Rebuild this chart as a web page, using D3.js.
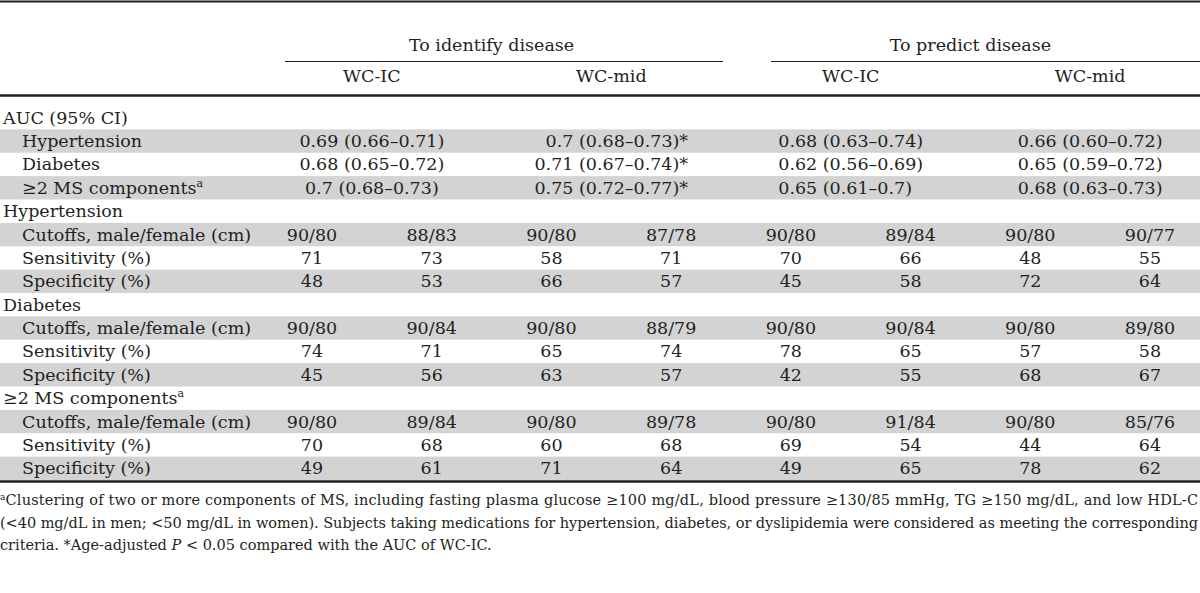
<!DOCTYPE html>
<html>
<head>
<meta charset="utf-8">
<script src="https://cdn.jsdelivr.net/npm/d3@7"></script>
<style>
  html, body { margin: 0; padding: 0; background: #fff; }
  svg text { font-family: "DejaVu Serif", serif; fill: #231f20; }
</style>
</head>
<body>
<svg id="chart" width="1200" height="593"></svg>
<script>
// table content
var groups = ["To identify disease", "To predict disease"];
var methods = ["WC-IC", "WC-mid", "WC-IC", "WC-mid"];

var aucLabels = ["Hypertension", "Diabetes", "\u22652 MS components"];
var aucHyp = ["0.69 (0.66\u20130.71)", "0.7 (0.68\u20130.73)*", "0.68 (0.63\u20130.74)", "0.66 (0.60\u20130.72)"];
var aucDia = ["0.68 (0.65\u20130.72)", "0.71 (0.67\u20130.74)*", "0.62 (0.56\u20130.69)", "0.65 (0.59\u20130.72)"];
var aucMs = ["0.7 (0.68\u20130.73)", "0.75 (0.72\u20130.77)*", "0.65 (0.61\u20130.7)", "0.68 (0.63\u20130.73)"];

var sections = ["Hypertension", "Diabetes", "\u22652 MS components"];
var measures = ["Cutoffs, male/female (cm)", "Sensitivity (%)", "Specificity (%)"];

var hypCutoffs = ["90/80", "88/83", "90/80", "87/78", "90/80", "89/84", "90/80", "90/77"];
var hypSens = [71, 73, 58, 71, 70, 66, 48, 55];
var hypSpec = [48, 53, 66, 57, 45, 58, 72, 64];
var diaCutoffs = ["90/80", "90/84", "90/80", "88/79", "90/80", "90/84", "90/80", "89/80"];
var diaSens = [74, 71, 65, 74, 78, 65, 57, 58];
var diaSpec = [45, 56, 63, 57, 42, 55, 68, 67];
var msCutoffs = ["90/80", "89/84", "90/80", "89/78", "90/80", "91/84", "90/80", "85/76"];
var msSens = [70, 68, 60, 68, 69, 54, 44, 64];
var msSpec = [49, 61, 71, 64, 49, 65, 78, 62];

var footnotes = [
  ["Clustering of two or more components of MS, including fasting plasma glucose \u2265100 mg/dL, blood pressure \u2265130/85 mmHg, TG \u2265150 mg/dL, and low HDL-C"],
  ["(<40 mg/dL in men; <50 mg/dL in women). Subjects taking medications for hypertension, diabetes, or dyslipidemia were considered as meeting the corresponding"],
  ["criteria. *Age-adjusted ", "P", " < 0.05 compared with the AUC of WC-IC."]
];

// build row list
var sectionData = [
  [hypCutoffs, hypSens, hypSpec],
  [diaCutoffs, diaSens, diaSpec],
  [msCutoffs, msSens, msSpec]
];
var aucData = [aucHyp, aucDia, aucMs];
var rows = [{label: "AUC (95% CI)", indent: 0}];
aucLabels.forEach(function (l, i) {
  rows.push({label: l, indent: 1, sup: i == 2, auc: aucData[i]});
});
sections.forEach(function (s, i) {
  rows.push({label: s, indent: 0, sup: i == 2});
  measures.forEach(function (m, j) {
    rows.push({label: m, indent: 1, cells: sectionData[i][j]});
  });
});

var W = 1200;
var fs = 17.5;
var svg = d3.select("#chart");

var y = d3.scaleBand().domain(d3.range(rows.length)).range([106, 480]);
var x = d3.scalePoint().domain(d3.range(8)).range([312, 1150]);
var groupX = function (g) { return (x(g * 4) + x(g * 4 + 3)) / 2; };
var methodX = function (m) { return (x(m * 2) + x(m * 2 + 1)) / 2; };

// shaded bands
svg.append("g").selectAll("rect")
  .data(rows.filter(function (d, i) { return i % 2 == 1; }))
  .enter().append("rect")
  .attr("x", 0)
  .attr("y", function (d) { return y(rows.indexOf(d)); })
  .attr("width", W)
  .attr("height", y.bandwidth())
  .attr("fill", "#d3d3d3");

// rules
function rule(x1, x2, yy, w) {
  svg.append("line").attr("x1", x1).attr("x2", x2).attr("y1", yy).attr("y2", yy)
    .attr("stroke", "#231f20").attr("stroke-width", w);
}
rule(0, W, 1.5, 2);
rule(0, W, 95.5, 2.5);
rule(0, W, 481.5, 2.5);
rule(285, 723, 61.5, 1);
rule(771, W, 61.5, 1);

// header text
svg.append("g").selectAll("text").data(groups).enter().append("text")
  .attr("x", function (d, i) { return groupX(i); })
  .attr("y", 51)
  .attr("text-anchor", "middle")
  .style("font-size", fs + "px")
  .text(function (d) { return d; });

svg.append("g").selectAll("text").data(methods).enter().append("text")
  .attr("x", function (d, i) { return methodX(i); })
  .attr("y", 82)
  .attr("text-anchor", "middle")
  .style("font-size", fs + "px")
  .text(function (d) { return d; });

// body rows
var rowG = svg.append("g").selectAll("g").data(rows).enter().append("g")
  .attr("transform", function (d, i) { return "translate(0," + (y(i) + y.bandwidth() / 2 + 6) + ")"; });

var lab = rowG.append("text")
  .attr("x", function (d) { return d.indent ? 22 : 3; })
  .style("font-size", fs + "px");
lab.append("tspan").text(function (d) { return d.label; });
lab.filter(function (d) { return d.sup; }).append("tspan")
  .attr("dy", -7).style("font-size", "11px").text("a");

// AUC cells: the widest entry of each column sits centred under its header,
// shorter ones are centred / right / left / centred as in the print
var aucAlign = ["middle", "end", "start", "middle"];
var aucText = rowG.filter(function (d) { return d.auc; }).selectAll("text.auc")
  .data(function (d) { return d.auc; }).enter().append("text")
  .attr("class", "auc")
  .style("font-size", fs + "px")
  .text(function (d) { return d; });

var maxW = [0, 0, 0, 0];
aucText.each(function (d, i) { maxW[i] = Math.max(maxW[i], this.getComputedTextLength()); });
aucText
  .attr("text-anchor", function (d, i) { return aucAlign[i]; })
  .attr("x", function (d, i) {
    var c = methodX(i);
    if (aucAlign[i] == "end") return c + maxW[i] / 2;
    if (aucAlign[i] == "start") return c - maxW[i] / 2;
    return c;
  });

rowG.filter(function (d) { return d.cells; }).selectAll("text.cell")
  .data(function (d) { return d.cells; }).enter().append("text")
  .attr("class", "cell")
  .attr("x", function (d, i) { return x(i); })
  .attr("text-anchor", "middle")
  .style("font-size", fs + "px")
  .text(function (d) { return d; });

// footnotes
var fn = svg.append("g");
footnotes.forEach(function (parts, i) {
  var t = fn.append("text")
    .attr("x", 0)
    .attr("y", 505 + i * 22.5)
    .style("font-size", "14.5px");
  if (i == 0)
    t.append("tspan").attr("dy", -5).style("font-size", "9px").text("a");
  parts.forEach(function (p, j) {
    var s = t.append("tspan").text(p);
    if (i == 0 && j == 0) s.attr("dy", 5);
    if (i == 2 && j == 1) s.style("font-style", "italic");
  });
  if (i < 2)
    t.attr("textLength", W - 2).attr("lengthAdjust", "spacing");
});
</script>
</body>
</html>
